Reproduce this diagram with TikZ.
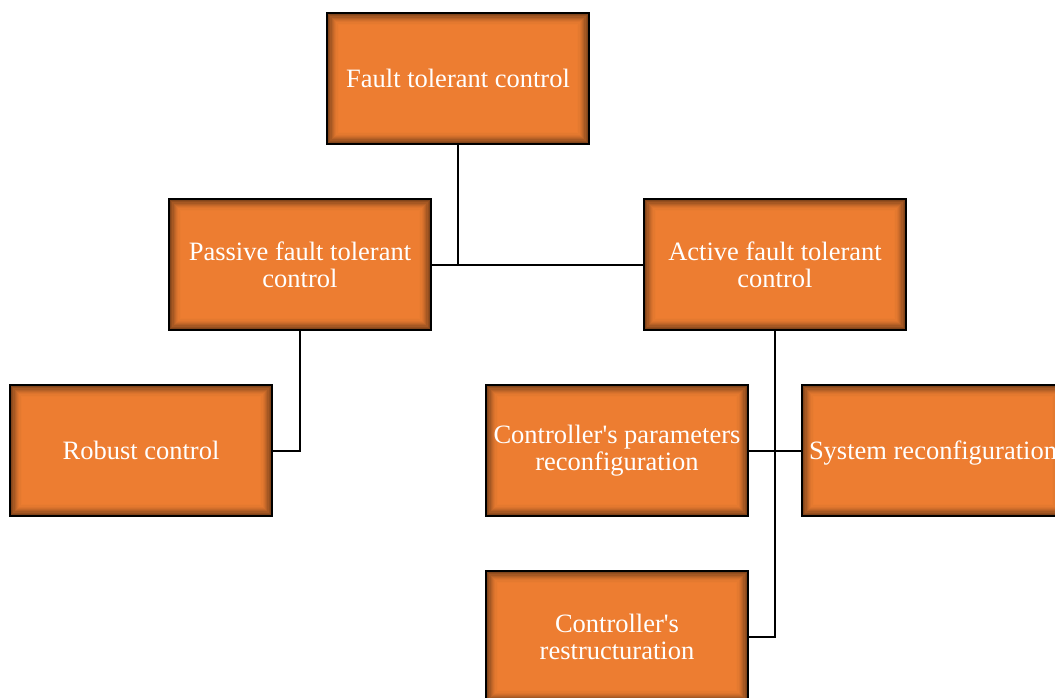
\documentclass[tikz,border=0pt]{standalone}
\usepackage{fontspec}
\setmainfont{Liberation Serif}[Ligatures=TeXOff]
\definecolor{boxorange}{RGB}{237,125,49}
\definecolor{boxdark}{RGB}{95,50,20}
\begin{document}
\begin{tikzpicture}[x=1pt,y=-1pt,
  box/.style={draw=black, line width=2.5pt, fill=boxorange, minimum width=262pt, minimum height=131pt,
    inner sep=0pt, align=center, text=white,
    font=\fontsize{26.5}{27}\selectfont,
    path picture={
      \foreach \i/\p in {0/25,1/38,2/50,3/62,4/72,5/81,6/88,7/94,8/98}{
        \draw[line width=1.2pt, draw=boxorange!\p!boxdark]
          ([shift={(\i*1.2pt+1.6pt,\i*1.2pt+1.6pt)}]path picture bounding box.south west) rectangle
          ([shift={(-\i*1.2pt-1.6pt,-\i*1.2pt-1.6pt)}]path picture bounding box.north east);
      }
    }},
  link/.style={draw=black, line width=2pt}]
\useasboundingbox (0,0) rectangle (1055,697);
\node[box] (ftc) at (458,78.5) {Fault tolerant control};
\node[box] (passive) at (300,264.5) {Passive fault tolerant\\control};
\node[box] (active) at (775,264.5) {Active fault tolerant\\control};
\node[box] (robust) at (141,450.5) {Robust control};
\node[box] (cpr) at (617,450.5) {Controller's parameters\\reconfiguration};
\node[box, text depth=0pt] (sys) at (933,450.5) {System reconfiguration};
\node[box] (restr) at (617,636.5) {Controller's\\restructuration};
\coordinate (junc) at (ftc.south |- passive.east);
\draw[link] (ftc.south) -- (junc);
\draw[link] (passive.east) -- (active.west);
\draw[link] (passive.south) |- (robust.east);
\draw[link] (active.south) |- (restr.east);
\draw[link] (cpr.east) -- (sys.west);
\end{tikzpicture}
\end{document}
